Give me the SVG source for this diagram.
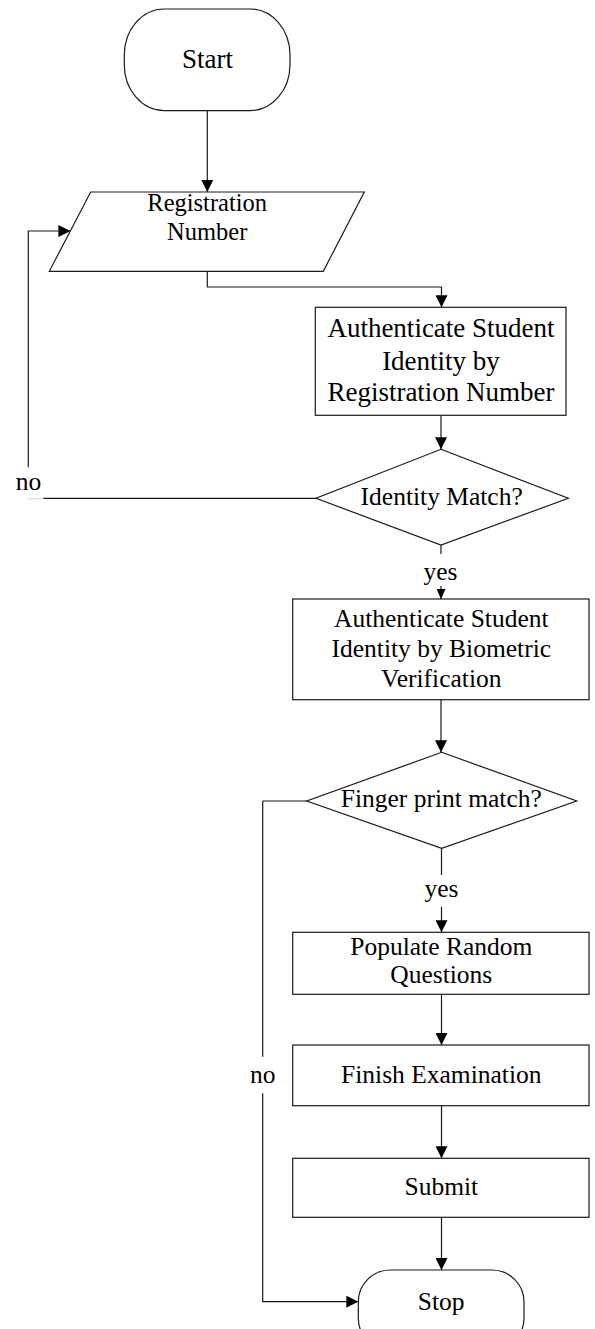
<svg xmlns="http://www.w3.org/2000/svg" width="595" height="1329" viewBox="0 0 595 1329">
<style>
.shape{fill:#fff;stroke:#1a1a1a;stroke-width:1.2}
.line{fill:none;stroke:#1a1a1a;stroke-width:1.2}
.t{font-family:"Liberation Serif","Times New Roman",serif;font-size:25.5px;text-anchor:middle;fill:#000}
.big{font-size:27px}
.mid{font-size:24.5px}
</style>
<defs>
<marker id="arr" markerUnits="userSpaceOnUse" markerWidth="12" markerHeight="12" refX="12" refY="6" orient="auto">
<path d="M0,0 L12,6 L0,12 z" fill="#000"/>
</marker>
<marker id="arrs" markerUnits="userSpaceOnUse" markerWidth="10" markerHeight="9" refX="10" refY="4.5" orient="auto">
<path d="M0,0 L10,4.5 L0,9 z" fill="#000"/>
</marker>
</defs>

<g id="connectors">
<line class="line" x1="207.3" y1="110.7" x2="207.3" y2="192" marker-end="url(#arr)"/>
<polyline class="line" points="207.3,271.3 207.3,287 441.5,287 441.5,307.3" marker-end="url(#arr)"/>
<line class="line" x1="441" y1="415.3" x2="441" y2="449.3" marker-end="url(#arr)"/>
<line class="line" x1="316" y1="498.3" x2="43.3" y2="498.3"/>
<line x1="28.3" y1="498.8" x2="43.3" y2="498.8" stroke="#d0d0d0" stroke-width="1"/>
<polyline class="line" points="28.3,467.3 28.3,231 70.4,231" marker-end="url(#arr)"/>
<line class="line" x1="441" y1="545" x2="441" y2="554"/>
<line class="line" x1="441" y1="586" x2="441" y2="599" marker-end="url(#arrs)"/>
<line class="line" x1="441" y1="699.7" x2="441" y2="752.3" marker-end="url(#arr)"/>
<line class="line" x1="306.7" y1="801" x2="262.7" y2="801"/>
<line class="line" x1="262.7" y1="801" x2="262.7" y2="1056.7"/>
<polyline class="line" points="262.7,1093.3 262.7,1301.7 358.3,1301.7" marker-end="url(#arr)"/>
<line class="line" x1="441.5" y1="848.3" x2="441.5" y2="875"/>
<line class="line" x1="441.5" y1="906.7" x2="441.5" y2="932.3" marker-end="url(#arr)"/>
<line class="line" x1="441.5" y1="994.3" x2="441.5" y2="1045" marker-end="url(#arr)"/>
<line class="line" x1="441.5" y1="1105.7" x2="441.5" y2="1158.3" marker-end="url(#arr)"/>
<line class="line" x1="441.5" y1="1217.3" x2="441.5" y2="1270" marker-end="url(#arr)"/>
<text class="t" x="28.5" y="490">no</text>
<text class="t" x="440.5" y="579.5">yes</text>
<text class="t" x="441.5" y="896.7">yes</text>
<text class="t" x="262.7" y="1083.3">no</text>
</g>

<g id="start">
<rect class="shape" x="124.3" y="9" width="165.7" height="101.7" rx="40" ry="46"/>
<text class="t big" x="207.5" y="68.3">Start</text>
</g>

<g id="registration-input">
<polygon class="shape" points="90.7,192 364.3,192 323.3,271.3 49.3,271.3"/>
<text class="t mid" x="207.2" y="210.7">Registration</text>
<text class="t mid" x="207.2" y="240">Number</text>
</g>

<g id="auth-registration">
<rect class="shape" x="315.3" y="307.3" width="250.7" height="108"/>
<text class="t big" x="441" y="336.7">Authenticate Student</text>
<text class="t big" x="441" y="370">Identity by</text>
<text class="t big" x="441" y="401">Registration Number</text>
</g>

<g id="identity-match">
<polygon class="shape" points="441,449.3 568.3,498.3 441,545 316,498.3"/>
<text class="t" x="441.7" y="505">Identity Match?</text>
</g>

<g id="auth-biometric">
<rect class="shape" x="292.7" y="599" width="296.3" height="100.7"/>
<text class="t" x="441.3" y="627.3">Authenticate Student</text>
<text class="t" x="441.3" y="656.7">Identity by Biometric</text>
<text class="t" x="441.3" y="686.7">Verification</text>
</g>

<g id="fingerprint-match">
<polygon class="shape" points="441.7,752.3 576.7,801 441.7,848.3 306.7,801"/>
<text class="t" x="441.3" y="807.3">Finger print match?</text>
</g>

<g id="populate">
<rect class="shape" x="292.7" y="932.3" width="296.3" height="62"/>
<text class="t" x="441.3" y="955">Populate Random</text>
<text class="t" x="441.3" y="983.3">Questions</text>
</g>

<g id="finish">
<rect class="shape" x="292.7" y="1045" width="296.3" height="60.7"/>
<text class="t" x="441.3" y="1083.3">Finish Examination</text>
</g>

<g id="submit">
<rect class="shape" x="292.7" y="1158.3" width="296.3" height="59"/>
<text class="t" x="441.3" y="1195">Submit</text>
</g>

<g id="stop">
<rect class="shape" x="358.3" y="1270" width="165.7" height="80" rx="32" ry="32"/>
<text class="t" x="441.2" y="1310">Stop</text>
</g>
</svg>
